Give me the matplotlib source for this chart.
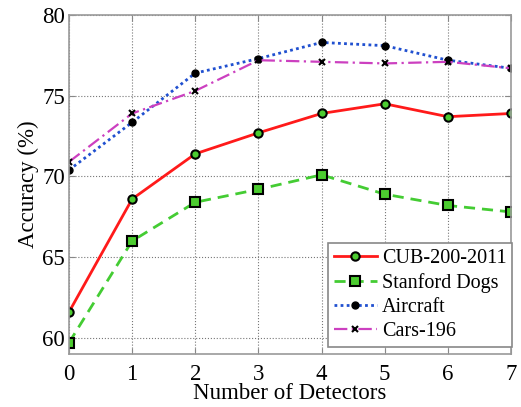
import matplotlib
matplotlib.use("Agg")
import matplotlib.pyplot as plt

x = [0, 1, 2, 3, 4, 5, 6, 7]
cub = [61.6, 68.6, 71.4, 72.7, 73.9, 74.5, 73.7, 73.9]
dogs = [59.7, 66.0, 68.4, 69.2, 70.1, 68.9, 68.2, 67.8]
aircraft = [70.4, 73.35, 76.4, 77.3, 78.3, 78.1, 77.2, 76.7]
cars = [70.9, 73.9, 75.3, 77.2, 77.1, 77.0, 77.1, 76.7]
yticks = [60, 65, 70, 75, 80]

plt.rcParams['font.family'] = ['Liberation Serif', 'DejaVu Serif']
fig = plt.figure(figsize=(5.21, 4.07), dpi=100)
ax = fig.add_axes([69/521, 1-354/407, (511-69)/521, (354-15)/407])

ax.plot(x, cub, color='#ff1a1a', lw=2, ls='-', marker='o', ms=6, mfc='#4ccc30', mec='black', mew=1.5, label='CUB-200-2011')
ax.plot(x, dogs, color='#44cc33', lw=2, ls=(0, (4, 2.5)), marker='s', ms=6.5, mfc='#4ccc30', mec='black', mew=1.5, label='Stanford Dogs')
ax.plot(x, aircraft, color='#2050d0', lw=2, ls=(0, (1, 1.2)), marker='o', ms=5, mfc='black', mec='black', label='Aircraft')
ax.plot(x, cars, color='#cc40c0', lw=1.6, ls=(0, (6, 2, 1, 2)), marker='x', ms=4.5, mec='black', mew=1.5, label='Cars-196')

ax.set_xlim(0, 7)
ax.set_ylim(59, 80)
ax.set_xticks(x)
ax.set_yticks(yticks)
ax.grid(True, color='#777777', ls=':', lw=0.8)
for s in ax.spines.values():
    s.set_color('#999999')
    s.set_linewidth(1.2)
ax.tick_params(direction='in', top=True, right=True, labelsize=16.5, color='#888888', length=4)
ax.tick_params(axis='y', pad=3)
ax.tick_params(axis='x', pad=7)
ax.set_xlabel('Number of Detectors', fontsize=16.5, labelpad=-1)
ax.set_ylabel('Accuracy (%)', fontsize=16.5, labelpad=2)

leg = ax.legend(loc='lower right', bbox_to_anchor=(1.003, 0.02), fontsize=14.5, fancybox=False, framealpha=1,
                edgecolor='#888888', handlelength=2.1, borderaxespad=0, labelspacing=0.25,
                handletextpad=0.25, borderpad=0.3)
leg.get_frame().set_linewidth(1.2)

fig.savefig('out.png', dpi=100)
